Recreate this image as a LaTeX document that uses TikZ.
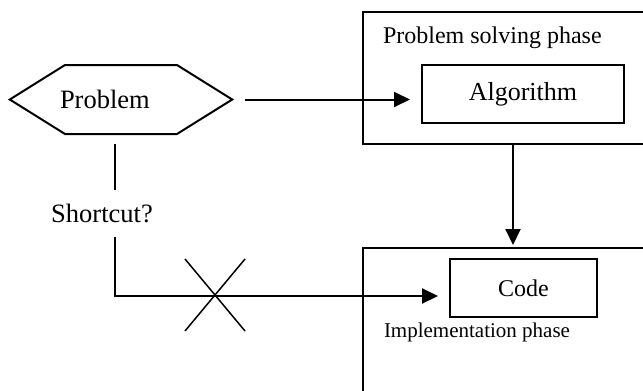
\documentclass[tikz,border=0pt]{standalone}
\usepackage{fontspec}
\setmainfont{Liberation Serif}
\usetikzlibrary{shapes.symbols,shapes.misc,arrows.meta}

\begin{document}
\begin{tikzpicture}[x=1pt, y=-1pt,
  every node/.style = {inner sep=0pt, outer sep=0pt},
  line/.style = {line width=2pt},
  arrow/.style = {line width=2pt, -{Triangle[length=16pt,width=15pt]}},
  phasebox/.style = {draw, line width=2pt, rectangle, anchor=north west},
  stepbox/.style = {draw, line width=2pt, rectangle},
  hexa/.style = {draw, line width=2pt, signal, signal to=west and east,
    signal pointer angle=64, minimum width=222pt, minimum height=69pt}]
  \useasboundingbox (0,0) rectangle (643,391);
  % phases
  \node[phasebox, minimum width=300pt, minimum height=132pt] (solving) at (363,12) {};
  \node[phasebox, minimum width=300pt, minimum height=170pt] (coding) at (363,248) {};
  \node[anchor=west, font=\fontsize{24}{28}\selectfont] (solvinglabel) at (383,38) {Problem solving phase};
  \node[anchor=west, font=\fontsize{21}{25}\selectfont] (codinglabel) at (384,332) {Implementation phase};
  % steps
  \node[hexa, text width=112pt, align=left, font=\fontsize{26.5}{30}\selectfont] (problem) at (121,99.5) {\hspace*{-5pt}Problem};
  \node[stepbox, minimum width=202pt, minimum height=58pt, font=\fontsize{26}{30}\selectfont] (algorithm) at (523,94) {Algorithm};
  \node[stepbox, minimum width=147pt, minimum height=58pt, font=\fontsize{24}{28}\selectfont] (code) at (523.5,288) {Code};
  \node[minimum height=47pt, font=\fontsize{26.5}{30}\selectfont] (shortcut) at (102,213.5) {Shortcut?};
  \node[cross out, draw, line width=1.5pt, minimum width=60pt, minimum height=72pt] (cross) at (215,295) {};
  % connectors
  \draw[arrow, shorten <=13pt, shorten >=12pt] (problem.east) -- (problem.east -| algorithm.west);
  \draw[arrow, shorten >=3pt] (solving.south) -- (solving.south |- coding.north);
  \draw[line] ([xshift=-6pt,yshift=-10pt]problem.south) -- ([xshift=13pt]shortcut.north);
  \draw[arrow, shorten >=12pt] ([xshift=13pt]shortcut.south) |- ([yshift=-8pt]code.west);
\end{tikzpicture}
\end{document}
